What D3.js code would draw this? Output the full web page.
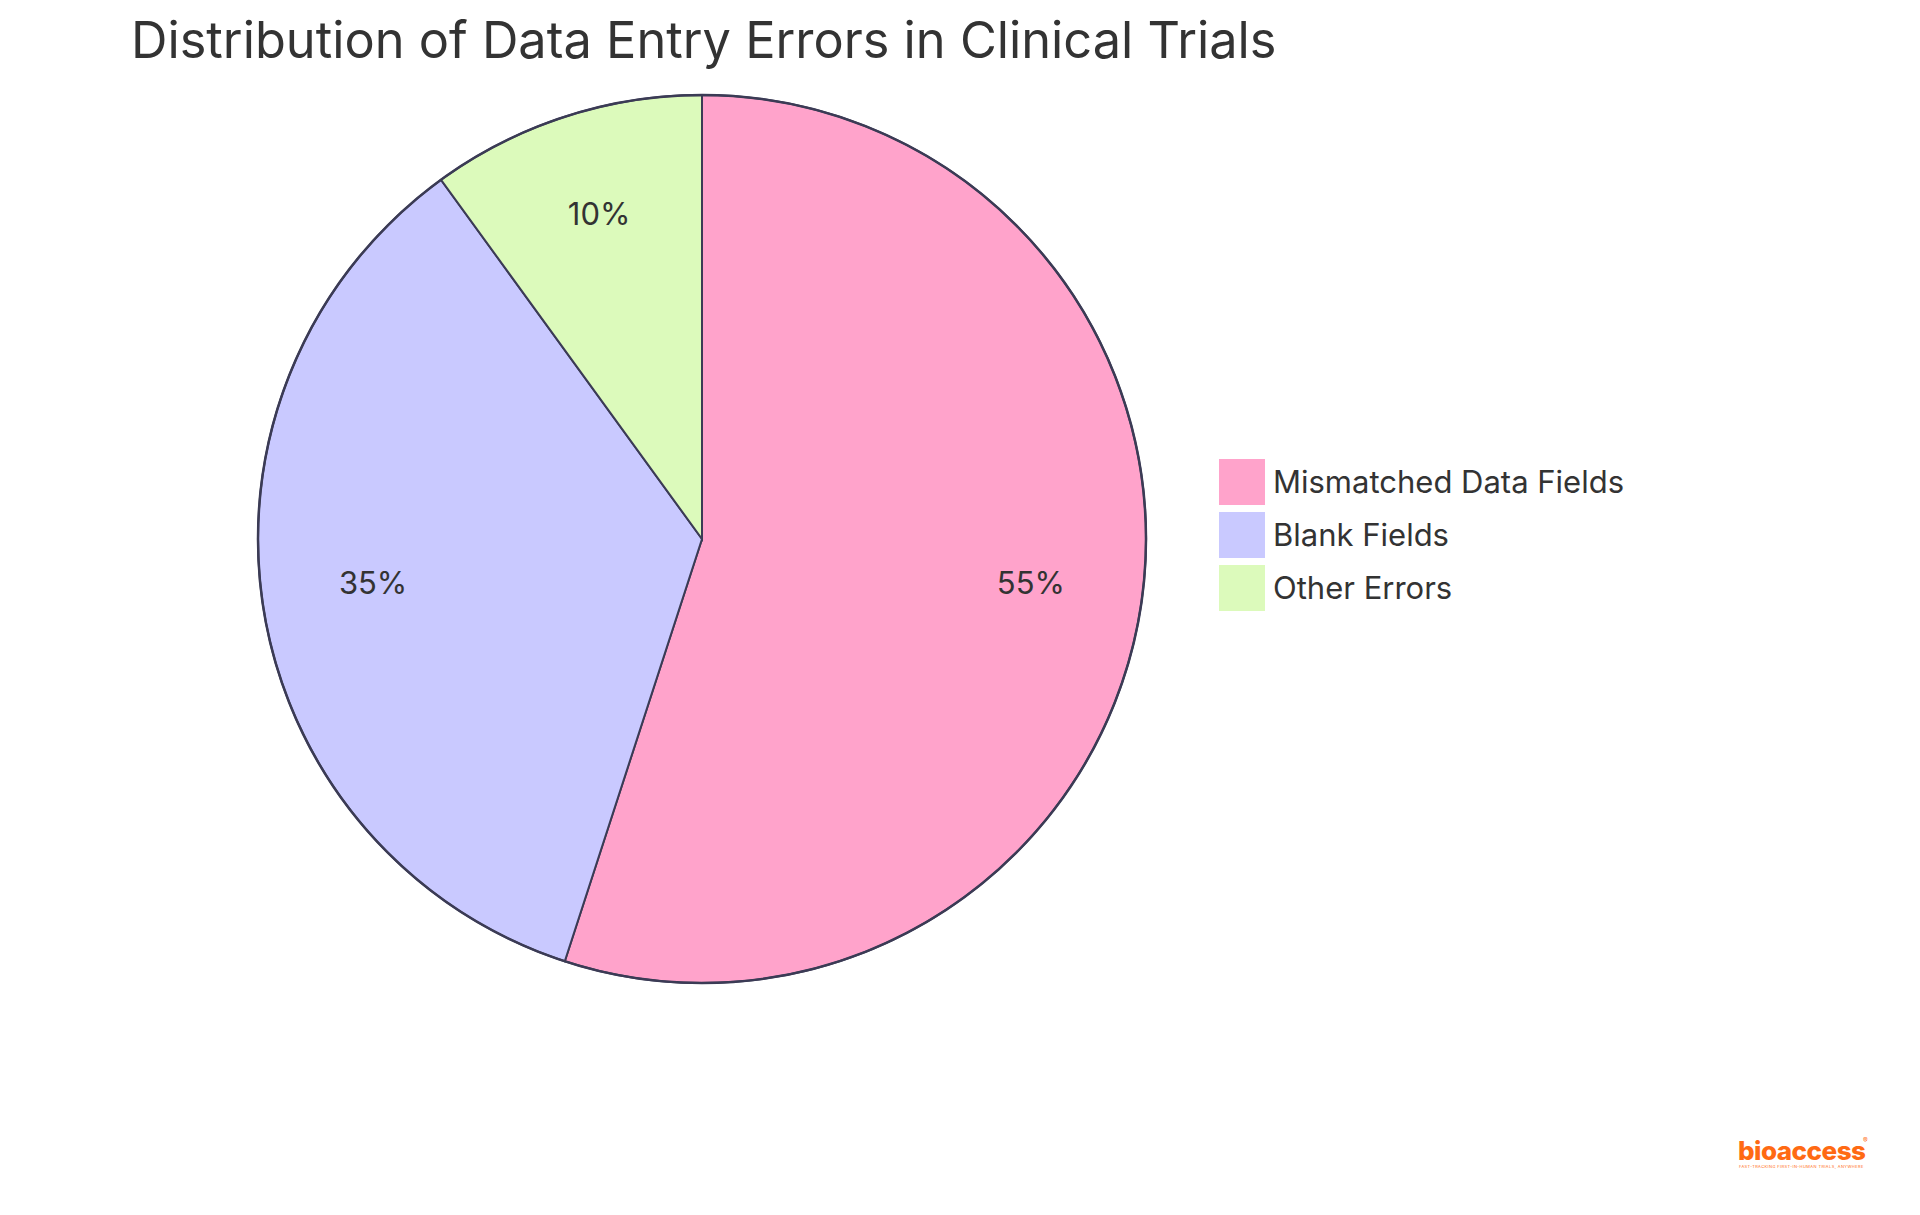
<!DOCTYPE html>
<html><head><meta charset="utf-8">
<script src="https://cdn.jsdelivr.net/npm/d3@7"></script>
<style>body{margin:0;background:#fff}text{font-family:Inter,"Open Sans",sans-serif}</style>
</head><body>
<svg id="chart" width="1920" height="1215"></svg>
<script>
var categories = ["Mismatched Data Fields", "Blank Fields", "Other Errors"];
var values = [55, 35, 10];
var colors = ["#ffa3cb", "#c9c9ff", "#dcfabb"];

var svg = d3.select("#chart");
var cx = 702, cy = 539, r = 444;

svg.append("text")
    .attr("x", 131).attr("y", 58)
    .attr("font-size", 50.5).attr("fill", "#333")
    .text("Distribution of Data Entry Errors in Clinical Trials");

var pie = d3.pie().sort(null).value(d => d);
var arcs = pie(values);
var arc = d3.arc().innerRadius(0).outerRadius(r);
var labelArc = d3.arc().innerRadius(r * 0.75).outerRadius(r * 0.75);

var g = svg.append("g").attr("transform", "translate(" + cx + "," + cy + ")");
g.selectAll("path").data(arcs).enter().append("path")
    .attr("d", arc)
    .attr("fill", (d, i) => colors[i])
    .attr("stroke", "#3b3b55").attr("stroke-width", 2);
g.append("circle").attr("r", r).attr("fill", "none")
    .attr("stroke", "#3b3b55").attr("stroke-width", 2.5);
g.selectAll("text.lbl").data(arcs).enter().append("text")
    .attr("class", "lbl")
    .attr("transform", d => "translate(" + labelArc.centroid(d) + ")")
    .attr("text-anchor", "middle").attr("dy", "0.1em")
    .attr("font-size", 31).attr("fill", "#333")
    .text(d => d.data + "%");

var leg = svg.append("g").attr("transform", "translate(1219,459)");
var rows = leg.selectAll("g").data(categories).enter().append("g")
    .attr("transform", (d, i) => "translate(0," + i * 53 + ")");
rows.append("rect").attr("width", 46).attr("height", 46)
    .attr("fill", (d, i) => colors[i]);
rows.append("text").attr("x", 54).attr("y", 23).attr("dy", "0.35em")
    .attr("font-size", 31).attr("fill", "#333").text(d => d);

svg.append("text").attr("x", 1738).attr("y", 1160)
    .attr("font-size", 26).attr("font-weight", 800).attr("fill", "#ff6a13")
    .attr("letter-spacing", -0.5).text("bioaccess");
svg.append("text").attr("x", 1863).attr("y", 1143)
    .attr("font-size", 7).attr("fill", "#ff6a13").text("®");
svg.append("text").attr("x", 1739).attr("y", 1168)
    .attr("font-size", 4).attr("fill", "#ff6a13").attr("letter-spacing", 0.4)
    .text("FAST-TRACKING FIRST-IN-HUMAN TRIALS, ANYWHERE");
</script>
</body></html>
